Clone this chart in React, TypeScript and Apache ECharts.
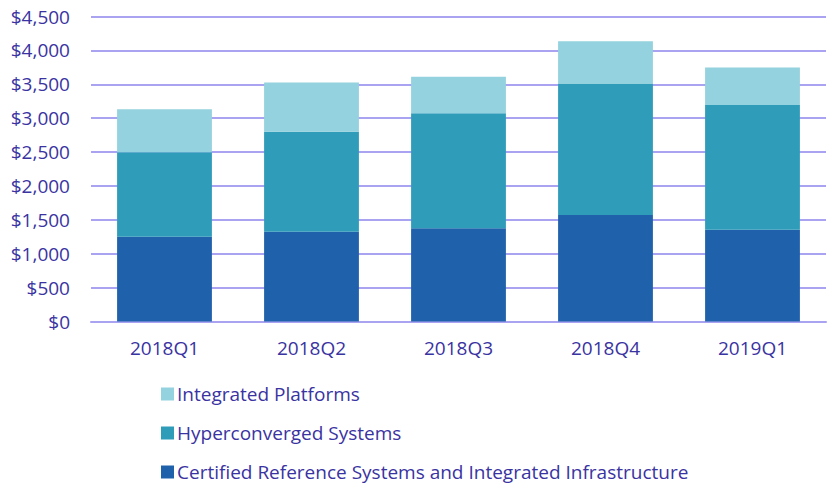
import React, { useEffect, useRef } from "react";
import * as echarts from "echarts";

const categories = ["2018Q1", "2018Q2", "2018Q3", "2018Q4", "2019Q1"];
const certified = [1251, 1325, 1375, 1571, 1354];
const hyperconverged = [1245, 1475, 1696, 1942, 1839];
const integrated = [634, 728, 540, 620, 556];
const seriesNames = [
  "Certified Reference Systems and Integrated Infrastructure",
  "Hyperconverged Systems",
  "Integrated Platforms",
];
const colors = ["#1f62ab", "#2f9dba", "#93d2de"];
const legendOrder = [seriesNames[2], seriesNames[1], seriesNames[0]];

const textColor = "#3a33a2";
const gridColor = "#aaa3f2";
const font = "'Open Sans', 'Noto Sans', sans-serif";

export default function App() {
  const ref = useRef<HTMLDivElement>(null);
  useEffect(() => {
    if (!ref.current) return;
    const chart = echarts.init(ref.current, null, { renderer: "svg" });
    const dataSets = [certified, hyperconverged, integrated];
    const legendTops = [379, 418, 457];
    chart.setOption({
      animation: false,
      textStyle: { fontFamily: font },
      grid: { left: 91, right: 12, top: 16.5, bottom: 167.5, containLabel: false },
      legend: legendOrder.map((name, i) => ({
        data: [name],
        left: 156,
        top: legendTops[i],
        icon: "rect",
        itemWidth: 13,
        itemHeight: 13,
        itemGap: 0,
        selectedMode: false,
        textStyle: { color: textColor, fontSize: 19, fontFamily: font, padding: [0, 0, 0, -2], lineHeight: 20 },
      })),
      xAxis: {
        type: "category",
        data: categories,
        axisTick: { show: false },
        axisLine: { show: true, lineStyle: { color: gridColor, width: 2 } },
        axisLabel: { color: textColor, fontSize: 19, margin: 17, fontFamily: font },
      },
      yAxis: {
        type: "value",
        min: 0,
        max: 4500,
        interval: 500,
        axisLine: { show: false },
        axisTick: { show: false },
        splitLine: { lineStyle: { color: gridColor, width: 2 } },
        axisLabel: {
          color: textColor,
          fontSize: 19,
          margin: 21,
          fontFamily: font,
          formatter: (v: number) => "$" + v.toLocaleString("en-US"),
        },
      },
      series: seriesNames.map((name, i) => ({
        name,
        type: "bar",
        stack: "total",
        data: dataSets[i],
        barWidth: "64.5%",
        itemStyle: { color: colors[i] },
      })),
    });
    return () => chart.dispose();
  }, []);
  return <div ref={ref} style={{ width: 838, height: 489, position: "absolute", left: 0, top: 0 }} />;
}
